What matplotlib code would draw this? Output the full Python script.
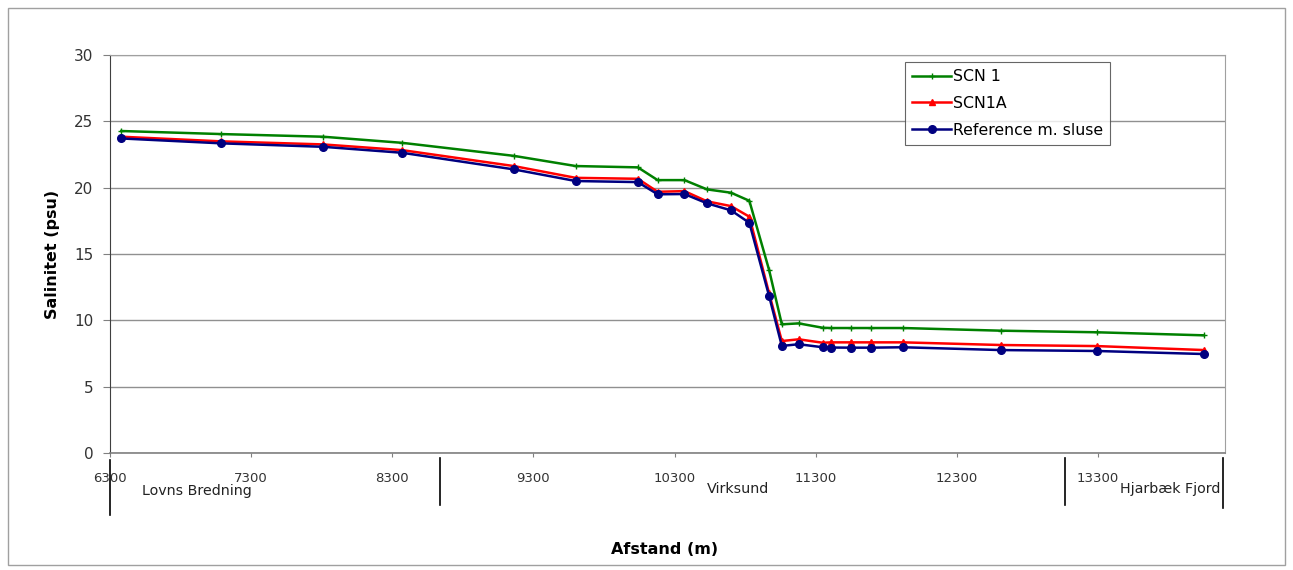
import matplotlib
matplotlib.use("Agg")
import matplotlib.pyplot as plt
from matplotlib.patches import Rectangle
import matplotlib.transforms as mtrans

# ---- data ----
distance = [6380, 7090, 7810, 8370, 9160, 9600, 10040, 10180, 10370, 10530, 10700,
            10830, 10970, 11060, 11180, 11350, 11410, 11550, 11690, 11920, 12610,
            13290, 14050]
scn1 = [24.27, 24.04, 23.84, 23.38, 22.40, 21.63, 21.53, 20.57, 20.57, 19.87, 19.62,
        19.01, 13.79, 9.70, 9.77, 9.44, 9.42, 9.42, 9.42, 9.42, 9.22, 9.10, 8.87]
scn1a = [23.84, 23.49, 23.26, 22.83, 21.63, 20.74, 20.67, 19.69, 19.74, 18.97, 18.61,
         17.81, 12.03, 8.44, 8.57, 8.31, 8.34, 8.34, 8.34, 8.34, 8.14, 8.06, 7.76]
reference = [23.71, 23.34, 23.08, 22.63, 21.38, 20.50, 20.42, 19.50, 19.52, 18.82, 18.29,
             17.35, 11.83, 8.07, 8.20, 7.97, 7.95, 7.94, 7.94, 7.97, 7.76, 7.69, 7.46]
series_names = ["SCN 1", "SCN1A", "Reference m. sluse"]
x_ticks = [6300, 7300, 8300, 9300, 10300, 11300, 12300, 13300]
y_ticks = [0, 5, 10, 15, 20, 25, 30]
region_names = ["Lovns Bredning", "Virksund", "Hjarbæk Fjord"]
region_label_x = [6530, 10530, 14170]
region_bounds = [6300, 8635, 13068, 14185]

plt.rcParams['font.family'] = ['DejaVu Sans']

fig = plt.figure(figsize=(12.93, 5.70), dpi=100)
ax = fig.add_axes([110/1293, 1-453/570, (1225-110)/1293, 398/570])

# outer chart border
fig.patches.append(Rectangle((8/1293, 5/570), (1285-8)/1293, (562-5)/570,
                             transform=fig.transFigure, fill=False,
                             edgecolor='#a0a0a0', linewidth=1.0))

ax.plot(distance, scn1, color='#008000', lw=1.8, marker='+', ms=4, mew=1.0,
        label=series_names[0], zorder=3)
ax.plot(distance, scn1a, color='#ff0000', lw=1.8, marker='^', ms=4,
        label=series_names[1], zorder=4)
ax.plot(distance, reference, color='#000080', lw=1.8, marker='o', ms=5.5,
        label=series_names[2], zorder=5)

ax.set_xlim(6300, 14200)
ax.set_ylim(0, 30)
ax.set_yticks(y_ticks)
ax.set_xticks(x_ticks)
ax.set_yticklabels([str(v) for v in y_ticks], fontsize=11, color='#333333')
ax.set_xticklabels([str(v) for v in x_ticks], fontsize=9.5, color='#333333')
ax.tick_params(axis='y', length=5, width=0.8, color='#808080', pad=7)
ax.tick_params(axis='x', length=3, width=0.8, color='#808080', pad=11)
ax.grid(axis='y', color='#909090', lw=1.0, zorder=0)
ax.set_axisbelow(True)
for s in ['top', 'right']:
    ax.spines[s].set_color('#a0a0a0')
ax.spines['left'].set_color('#404040')
ax.spines['bottom'].set_color('#808080')
ax.spines['bottom'].set_linewidth(1.2)

ax.set_ylabel('Salinitet (psu)', fontsize=11.5, fontweight='bold', labelpad=10)
fig.text(665/1293, 1-549/570, 'Afstand (m)', fontsize=11.5, fontweight='bold',
         ha='center', va='center')

# region separators and names below the axis
trans = mtrans.blended_transform_factory(ax.transData, ax.transAxes)
seg_y = [(-0.018, -0.157), (-0.013, -0.131), (-0.013, -0.131), (-0.013, -0.138)]
for xb, (y0, y1) in zip(region_bounds, seg_y):
    ax.plot([xb, xb], [y0, y1], transform=trans, color='black', lw=1.2, clip_on=False)
ax.text(region_label_x[0], -0.096, region_names[0], transform=trans, ha='left',
        va='center', fontsize=10.3, color='#222222')
ax.text(region_label_x[1], -0.091, region_names[1], transform=trans, ha='left',
        va='center', fontsize=10.3, color='#222222')
ax.text(region_label_x[2], -0.091, region_names[2], transform=trans, ha='right',
        va='center', fontsize=10.3, color='#222222')

leg = ax.legend(loc='upper left', bbox_to_anchor=((905-110)/1115, (453-62)/398),
                fontsize=11.3, frameon=True, fancybox=False, edgecolor='#404040',
                handlelength=2.5, handletextpad=0.1, borderpad=0.45, labelspacing=0.75,
                borderaxespad=0)
leg.get_frame().set_linewidth(0.8)

fig.savefig('out.png', dpi=100)
